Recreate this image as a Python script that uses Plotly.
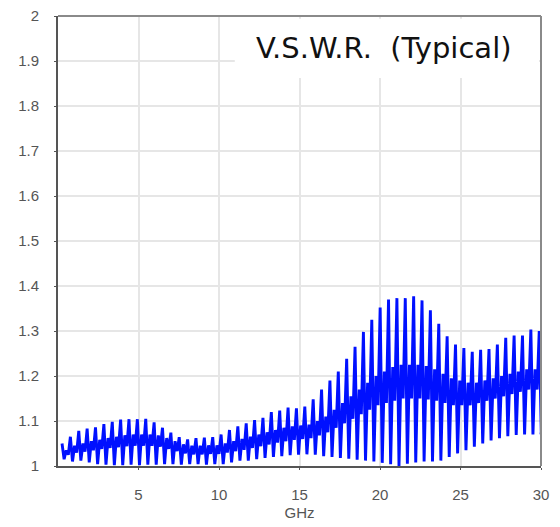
import plotly.graph_objects as go

# ---- data ----
period_start = 0.25   # GHz, first ripple peak
ripple_period = 0.52  # GHz

# ripple peaks (top of each stroke)
peak_vals = [1.050, 1.065, 1.078, 1.083, 1.086, 1.093, 1.098, 1.103, 1.104, 1.104,
             1.105, 1.097, 1.085, 1.074, 1.064, 1.059, 1.062, 1.063, 1.064, 1.070,
             1.080, 1.088, 1.095, 1.102, 1.107, 1.120, 1.123, 1.130, 1.128, 1.132,
             1.148, 1.170, 1.190, 1.210, 1.238, 1.265, 1.298, 1.325, 1.352, 1.370,
             1.373, 1.373, 1.377, 1.368, 1.346, 1.316, 1.288, 1.270, 1.262, 1.254,
             1.258, 1.260, 1.270, 1.285, 1.290, 1.290, 1.303, 1.300]

# deep minima (bottom of each stroke)
deep_vals = [1.015, 1.010, 1.012, 1.008, 1.004, 1.003, 1.002, 1.002, 1.003, 1.002,
             1.003, 1.003, 1.004, 1.004, 1.003, 1.004, 1.004, 1.003, 1.004, 1.004,
             1.008, 1.012, 1.012, 1.015, 1.018, 1.020, 1.022, 1.024, 1.025, 1.026,
             1.025, 1.022, 1.020, 1.018, 1.016, 1.014, 1.012, 1.010, 1.007, 1.004,
             1.000, 1.005, 1.008, 1.010, 1.010, 1.012, 1.020, 1.028, 1.035, 1.043,
             1.050, 1.057, 1.062, 1.066, 1.069, 1.070, 1.070, 1.070]

# secondary ripple knot: upper and lower level
mid_hi_vals = [1.035, 1.045, 1.050, 1.055, 1.058, 1.062, 1.065, 1.068, 1.070, 1.070,
               1.070, 1.068, 1.062, 1.055, 1.048, 1.045, 1.045, 1.046, 1.046,
               1.050, 1.055, 1.060, 1.065, 1.070, 1.075, 1.080, 1.085, 1.088, 1.090, 1.092,
               1.100, 1.110, 1.125, 1.140, 1.155, 1.170, 1.185, 1.200,
               1.210, 1.220, 1.225, 1.225, 1.225, 1.222, 1.215, 1.205,
               1.195, 1.190, 1.185, 1.185, 1.190, 1.195, 1.200, 1.205, 1.210, 1.215, 1.215, 1.215]

mid_lo_vals = [1.025, 1.030, 1.032, 1.035, 1.038, 1.040, 1.042, 1.044, 1.045, 1.045,
               1.045, 1.043, 1.038, 1.033, 1.028, 1.026, 1.026, 1.027, 1.027,
               1.030, 1.033, 1.036, 1.040, 1.044, 1.048, 1.052, 1.055, 1.058, 1.060, 1.062,
               1.068, 1.075, 1.085, 1.095, 1.105, 1.115, 1.125, 1.135,
               1.140, 1.145, 1.150, 1.150, 1.150, 1.148, 1.145, 1.140,
               1.135, 1.135, 1.135, 1.140, 1.145, 1.150, 1.155, 1.160, 1.165, 1.170, 1.170, 1.170]

end_freq = 30.0
end_val = 1.07

y_tick_vals = [1, 1.1, 1.2, 1.3, 1.4, 1.5, 1.6, 1.7, 1.8, 1.9, 2]
y_tick_text = ["1", "1.1", "1.2", "1.3", "1.4", "1.5", "1.6", "1.7", "1.8", "1.9", "2"]
x_tick_vals = [5, 10, 15, 20, 25, 30]
x_tick_text = ["5", "10", "15", "20", "25", "30"]

# build the trace: peak -> deep min -> knot high -> knot low -> next peak
freqs, vswr = [], []
q = ripple_period / 4
for i in range(len(peak_vals)):
    f = period_start + ripple_period * i
    freqs += [f, f + q, f + 2 * q, f + 3 * q]
    vswr += [peak_vals[i], deep_vals[i], mid_hi_vals[i], mid_lo_vals[i]]
freqs.append(end_freq)
vswr.append(end_val)

fig = go.Figure()
fig.add_trace(go.Scatter(x=freqs, y=vswr, mode="lines",
                         line=dict(color="#0010ff", width=2.9),
                         showlegend=False, hoverinfo="skip"))

axis_font = dict(family="Liberation Sans, Arial, sans-serif", size=15, color="#555555")

fig.update_layout(
    width=552, height=519,
    margin=dict(l=50, r=19, t=8, b=61, autoexpand=False),
    paper_bgcolor="white", plot_bgcolor="white",
    xaxis=dict(range=[0, 30], tickvals=x_tick_vals, ticktext=x_tick_text,
               automargin=False,
               showgrid=True, gridcolor="#e6e6e6", gridwidth=1.5,
               showline=True, linecolor="#555555", linewidth=2,
               ticks="outside", ticklen=2, tickcolor="#555555",
               tickfont=axis_font, ticklabelstandoff=12, zeroline=False,
               ticklabeloverflow="allow",
               title=dict(text="GHz", font=axis_font, standoff=5)),
    yaxis=dict(range=[1, 2], tickvals=y_tick_vals, ticktext=y_tick_text,
               automargin=False,
               showgrid=True, gridcolor="#e6e6e6", gridwidth=1.5,
               showline=True, linecolor="#555555", linewidth=2,
               ticks="outside", ticklen=2, tickcolor="#555555",
               tickfont=axis_font, ticklabelstandoff=12, zeroline=False,
               ticklabeloverflow="allow"),
    shapes=[
        dict(type="line", xref="paper", yref="paper", x0=0, x1=1, y0=1, y1=1,
             line=dict(color="#8a8a8a", width=2)),
        dict(type="line", xref="paper", yref="paper", x0=1, x1=1, y0=0, y1=1,
             line=dict(color="#8a8a8a", width=2)),
        dict(type="rect", xref="paper", yref="paper", x0=0.366, x1=0.996,
             y0=0.862, y1=0.994, fillcolor="white", line=dict(width=0),
             layer="above"),
    ],
    annotations=[
        dict(text="V.S.W.R.  (Typical)", xref="paper", yref="paper",
             x=0.675, y=0.929, xanchor="center", yanchor="middle",
             showarrow=False,
             font=dict(family="DejaVu Sans", size=29, color="#111111")),
    ],
)

fig.write_html("out.html")
